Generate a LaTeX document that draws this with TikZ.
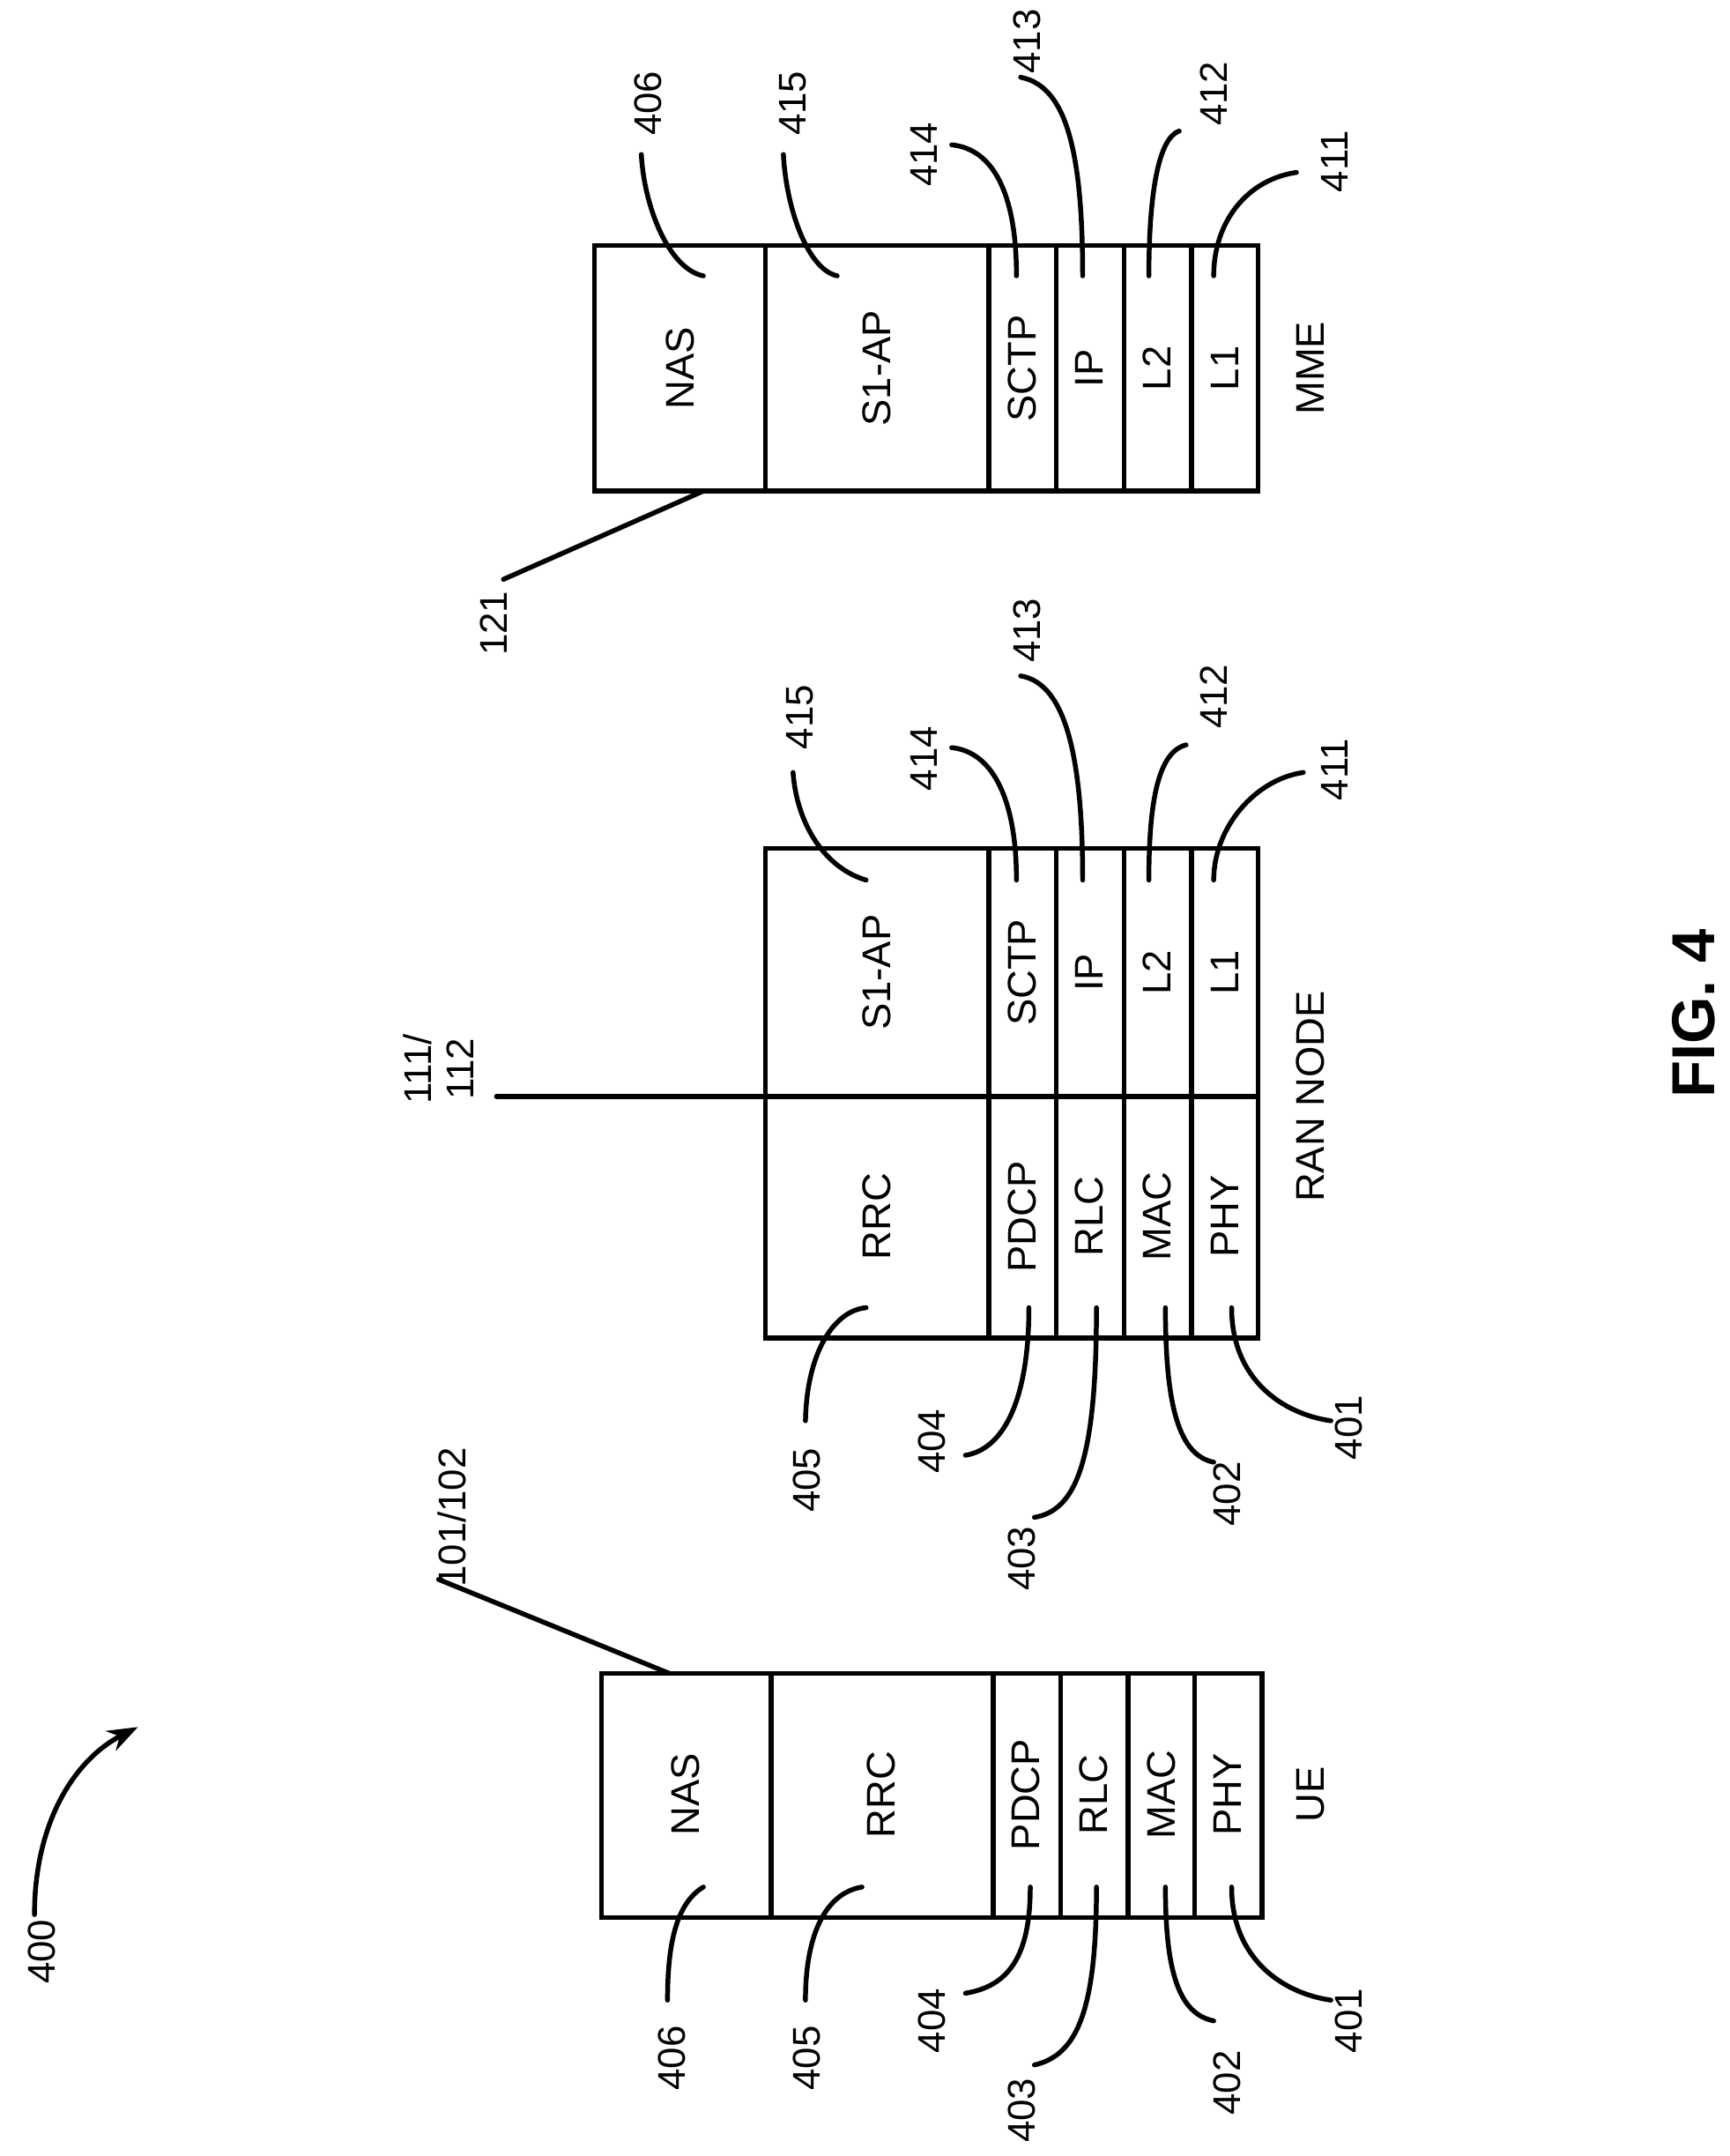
\documentclass[tikz,border=0pt]{standalone}
\usepackage{fontspec}
\setmainfont{Liberation Sans}
\usetikzlibrary{arrows.meta}
\begin{document}
\begin{tikzpicture}[x=1pt,y=-1pt,line width=3.5pt,
  t/.style={rotate=90,font=\fontsize{29}{32}\selectfont,inner sep=0pt},
  n/.style={rotate=90,font=\fontsize{28}{31}\selectfont,inner sep=0pt},
  ld/.style={line width=3.5pt,line cap=round}]
\useasboundingbox (0,0) rectangle (1254,1563);
% UE
\draw (436,1213) rectangle (915,1390);
\foreach \x in {559,720,769,818,866} \draw (\x,1213)--(\x,1390);
\node[t] (uenas) at (497,1301) {NAS};
\node[t] (uerrc) at (639,1301) {RRC};
\node[t] (uepdcp) at (744,1301) {PDCP};
\node[t] (uerlc) at (793,1301) {RLC};
\node[t] (uemac) at (842,1301) {MAC};
\node[t] (uephy) at (890,1301) {PHY};
\node[t] (ue) at (950,1301) {UE};
% RAN
\draw (555,615) rectangle (912,970);
\draw (555,795)--(912,795);
\foreach \x in {717,766,815,864} \draw (\x,615)--(\x,970);
\node[t] at (636,882) {RRC};
\node[t] at (741,882) {PDCP};
\node[t] at (790,882) {RLC};
\node[t] at (839,882) {MAC};
\node[t] at (888,882) {PHY};
\node[t] at (636,705) {S1-AP};
\node[t] at (741,705) {SCTP};
\node[t] at (790,705) {IP};
\node[t] at (839,705) {L2};
\node[t] at (888,705) {L1};
\node[t] at (950,795) {RAN NODE};
% MME
\draw (431,178) rectangle (912,356);
\foreach \x in {555,717,766,815,864} \draw (\x,178)--(\x,356);
\node[t] at (493,267) {NAS};
\node[t] at (636,267) {S1-AP};
\node[t] at (741,267) {SCTP};
\node[t] at (790,267) {IP};
\node[t] at (839,267) {L2};
\node[t] at (888,267) {L1};
\node[t] at (950,267) {MME};
% UE leaders
\draw[ld] (510,1368) .. controls (490,1380) and (484,1410) .. (484,1450);
\node[n] at (487,1492) {406};
\draw[ld] (625,1368) .. controls (600,1372) and (584,1400) .. (584,1450);
\node[n] at (585,1492) {405};
\draw[ld] (747,1368) .. controls (747,1420) and (730,1440) .. (700,1445);
\node[n] at (676,1465) {404};
\draw[ld] (795,1368) .. controls (795,1460) and (780,1490) .. (750,1497);
\node[n] at (741,1530) {403};
\draw[ld] (845,1368) .. controls (845,1430) and (855,1460) .. (880,1465);
\node[n] at (890,1510) {402};
\draw[ld] (893,1368) .. controls (893,1420) and (930,1445) .. (965,1450);
\node[n] at (978,1465) {401};
% RAN leaders bottom
\draw[ld] (628,948) .. controls (605,950) and (585,980) .. (584,1030);
\node[n] at (585,1073) {405};
\draw[ld] (746,948) .. controls (746,1010) and (730,1050) .. (700,1055);
\node[n] at (676,1045) {404};
\draw[ld] (795,948) .. controls (795,1060) and (780,1095) .. (750,1100);
\node[n] at (741,1130) {403};
\draw[ld] (845,948) .. controls (845,1020) and (855,1055) .. (880,1060);
\node[n] at (890,1083) {402};
\draw[ld] (893,948) .. controls (893,1000) and (930,1025) .. (965,1030);
\node[n] at (978,1035) {401};
% RAN leaders top
\draw[ld] (628,638) .. controls (600,630) and (578,600) .. (575,560);
\node[n] at (580,520) {415};
\draw[ld] (737,638) .. controls (737,580) and (720,545) .. (690,542);
\node[n] at (670,550) {414};
\draw[ld] (785,638) .. controls (785,540) and (770,495) .. (740,490);
\node[n] at (745,457) {413};
\draw[ld] (833,638) .. controls (833,580) and (840,545) .. (860,540);
\node[n] at (880,505) {412};
\draw[ld] (880,638) .. controls (880,600) and (910,565) .. (945,560);
\node[n] at (968,558) {411};
% MME leaders
\draw[ld] (510,200) .. controls (485,195) and (467,150) .. (465,112);
\node[n] at (470,75) {406};
\draw[ld] (607,200) .. controls (585,195) and (570,150) .. (568,112);
\node[n] at (575,75) {415};
\draw[ld] (737,200) .. controls (737,140) and (720,108) .. (690,105);
\node[n] at (670,112) {414};
\draw[ld] (785,200) .. controls (785,100) and (770,62) .. (740,56);
\node[n] at (745,30) {413};
\draw[ld] (833,200) .. controls (833,140) and (840,100) .. (855,95);
\node[n] at (880,68) {412};
\draw[ld] (880,200) .. controls (880,160) and (905,130) .. (940,125);
\node[n] at (968,117) {411};
% reference lines
\coordinate (c121) at (365,420);
\draw[ld] (510,356) -- (c121);
\node[n] at (358,452) {121};
\coordinate (c101) at (318,1145);
\draw[ld] (485,1213) -- (c101);
\node[n] at (328,1100) {101/102};
\coordinate (c111) at (360,795);
\draw[ld] (c111) -- (555,795);
\node[n,align=center] at (318,775) {111/\\112};
% 400
\node[n] (l400) at (30,1415) {400};
\draw[ld,-{Stealth[length=22pt,width=16pt]}] (25,1388) .. controls (25,1320) and (55,1275) .. (100,1252);
\node[rotate=90,font=\bfseries\fontsize{44}{48}\selectfont] at (1228,735) {FIG. 4};
\end{tikzpicture}
\end{document}
